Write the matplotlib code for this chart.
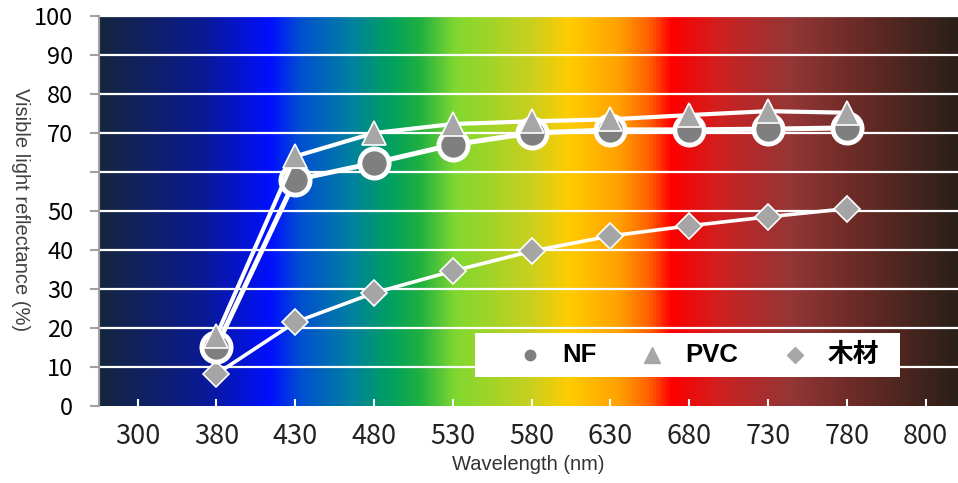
import numpy as np
import matplotlib
matplotlib.use("Agg")
import matplotlib.pyplot as plt
from matplotlib.colors import LinearSegmentedColormap
from matplotlib.lines import Line2D
from matplotlib.patches import Rectangle

# ---- data ----
wavelength_labels = ['300', '380', '430', '480', '530', '580', '630', '680', '730', '780', '800']
data_labels = ['380', '430', '480', '530', '580', '630', '680', '730', '780']
nf = [15.2, 58.0, 62.3, 67.0, 70.0, 70.8, 70.8, 71.0, 71.3]
pvc = [18.0, 64.0, 70.0, 72.3, 73.0, 73.5, 74.6, 75.6, 75.2]
wood = [8.2, 21.5, 29.0, 34.6, 39.7, 43.6, 46.2, 48.5, 50.6]
ytick_values = [0, 10, 20, 30, 40, 50, 60, 70, 80, 90, 100]
ytick_labels = ['0', '10', '20', '30', '40', '50', '', '70', '80', '90', '100']
series_names = ['NF', 'PVC', '木材']

W, H = 958, 483
fig = plt.figure(figsize=(W / 100, H / 100), dpi=100)
ax_left, ax_right, ax_top, ax_bot = 99, 958, 16, 406
ax = fig.add_axes([ax_left / W, (H - ax_bot) / H, (ax_right - ax_left) / W, (ax_bot - ax_top) / H])

# spectrum background
stops_px = [(99, '#15263F'), (200, '#0A1A90'), (270, '#0010FF'), (300, '#0050D0'),
            (350, '#0080A0'), (390, '#00A060'), (420, '#20B040'), (455, '#80D830'),
            (530, '#C8D020'), (570, '#FFCC00'), (620, '#FFA000'), (650, '#FF6000'),
            (672, '#FF0000'), (685, '#F00808'), (720, '#D02020'), (745, '#B82828'),
            (790, '#963636'), (850, '#702C28'), (900, '#502620'), (958, '#2A2018')]
stops = [((p - ax_left) / (ax_right - ax_left), c) for p, c in stops_px]
cmap = LinearSegmentedColormap.from_list('spec', stops)
grad = np.linspace(0, 1, 1024)[None, :]
ax.imshow(grad, cmap=cmap, extent=[0, 1, 0, 1], transform=ax.transAxes,
          aspect='auto', zorder=0, interpolation='bilinear')

xpos = {lab: i for i, lab in enumerate(wavelength_labels)}
xs = [xpos[l] for l in data_labels]

ax.set_xlim(-0.49, 10.41)
ax.set_ylim(0, 100)

for v in ytick_values[1:]:
    ax.axhline(v, color='white', lw=1.6, zorder=1)

# series
ax.plot(xs, wood, color='white', lw=2.6, zorder=3, marker='D', markersize=13,
        markerfacecolor='#A5A5A5', markeredgecolor='white', markeredgewidth=1.2)
ax.plot(xs, nf, color='white', lw=3.6, zorder=4, marker='o', markersize=21,
        markerfacecolor='#7F7F7F', markeredgecolor='white', markeredgewidth=3.5)
ax.plot(xs, pvc, color='white', lw=3.0, zorder=5, marker='^', markersize=17,
        markerfacecolor='#A6A6A6', markeredgecolor='white', markeredgewidth=1.2)

# axes styling
for s in ['top', 'right']:
    ax.spines[s].set_visible(False)
ax.spines['left'].set_color('#A0A0A0')
ax.spines['left'].set_linewidth(1.5)
ax.spines['bottom'].set_visible(False)
ax.set_yticks(ytick_values)
ax.set_yticklabels(ytick_labels, fontsize=17, color='black',
                   family=['Noto Sans CJK JP', 'DejaVu Sans'])
ax.tick_params(axis='y', direction='out', length=6.5, width=1.5, color='#A0A0A0', pad=12)
ax.set_xticks(range(len(wavelength_labels)))
ax.set_xticklabels(wavelength_labels, fontsize=19.5, color='#222222',
                   family=['Noto Sans CJK JP', 'DejaVu Sans'])
ax.tick_params(axis='x', direction='in', length=5, width=1.5, color='white', pad=12)

ax.set_xlabel('Wavelength (nm)', fontsize=14.5, color='#333333',
              family=['Liberation Sans', 'DejaVu Sans'], labelpad=4)
fig.text(20 / W, 1 - 210 / H, 'Visible light reflectance (%)', rotation=270,
         ha='center', va='center', fontsize=14.5, color='#404040',
         family=['Liberation Sans', 'DejaVu Sans'])

# legend drawn manually (white box, markers, bold labels)
def fx(px):
    return px / W

def fy(py):
    return 1 - py / H

fig.add_artist(Rectangle((fx(475), fy(377)), fx(900) - fx(475), fy(333) - fy(377),
                         transform=fig.transFigure, facecolor='white', edgecolor='none', zorder=20))
leg_markers = [('o', '#7F7F7F', 7.5, 530), ('^', '#A6A6A6', 11, 652), ('D', '#A6A6A6', 8.5, 795)]
leg_text_x = [562, 685, 828]
for (m, c, ms, mx), name, tx in zip(leg_markers, series_names, leg_text_x):
    fig.add_artist(Line2D([fx(mx)], [fy(355)], marker=m, color=c, linestyle='none',
                          markersize=ms, transform=fig.transFigure, zorder=21))
    fig.text(fx(tx), fy(355), name, ha='left', va='center', fontsize=18.5, fontweight='bold',
             color='black', family=['Liberation Sans', 'Noto Sans CJK JP'], zorder=22)

fig.savefig('out.png', dpi=100)
